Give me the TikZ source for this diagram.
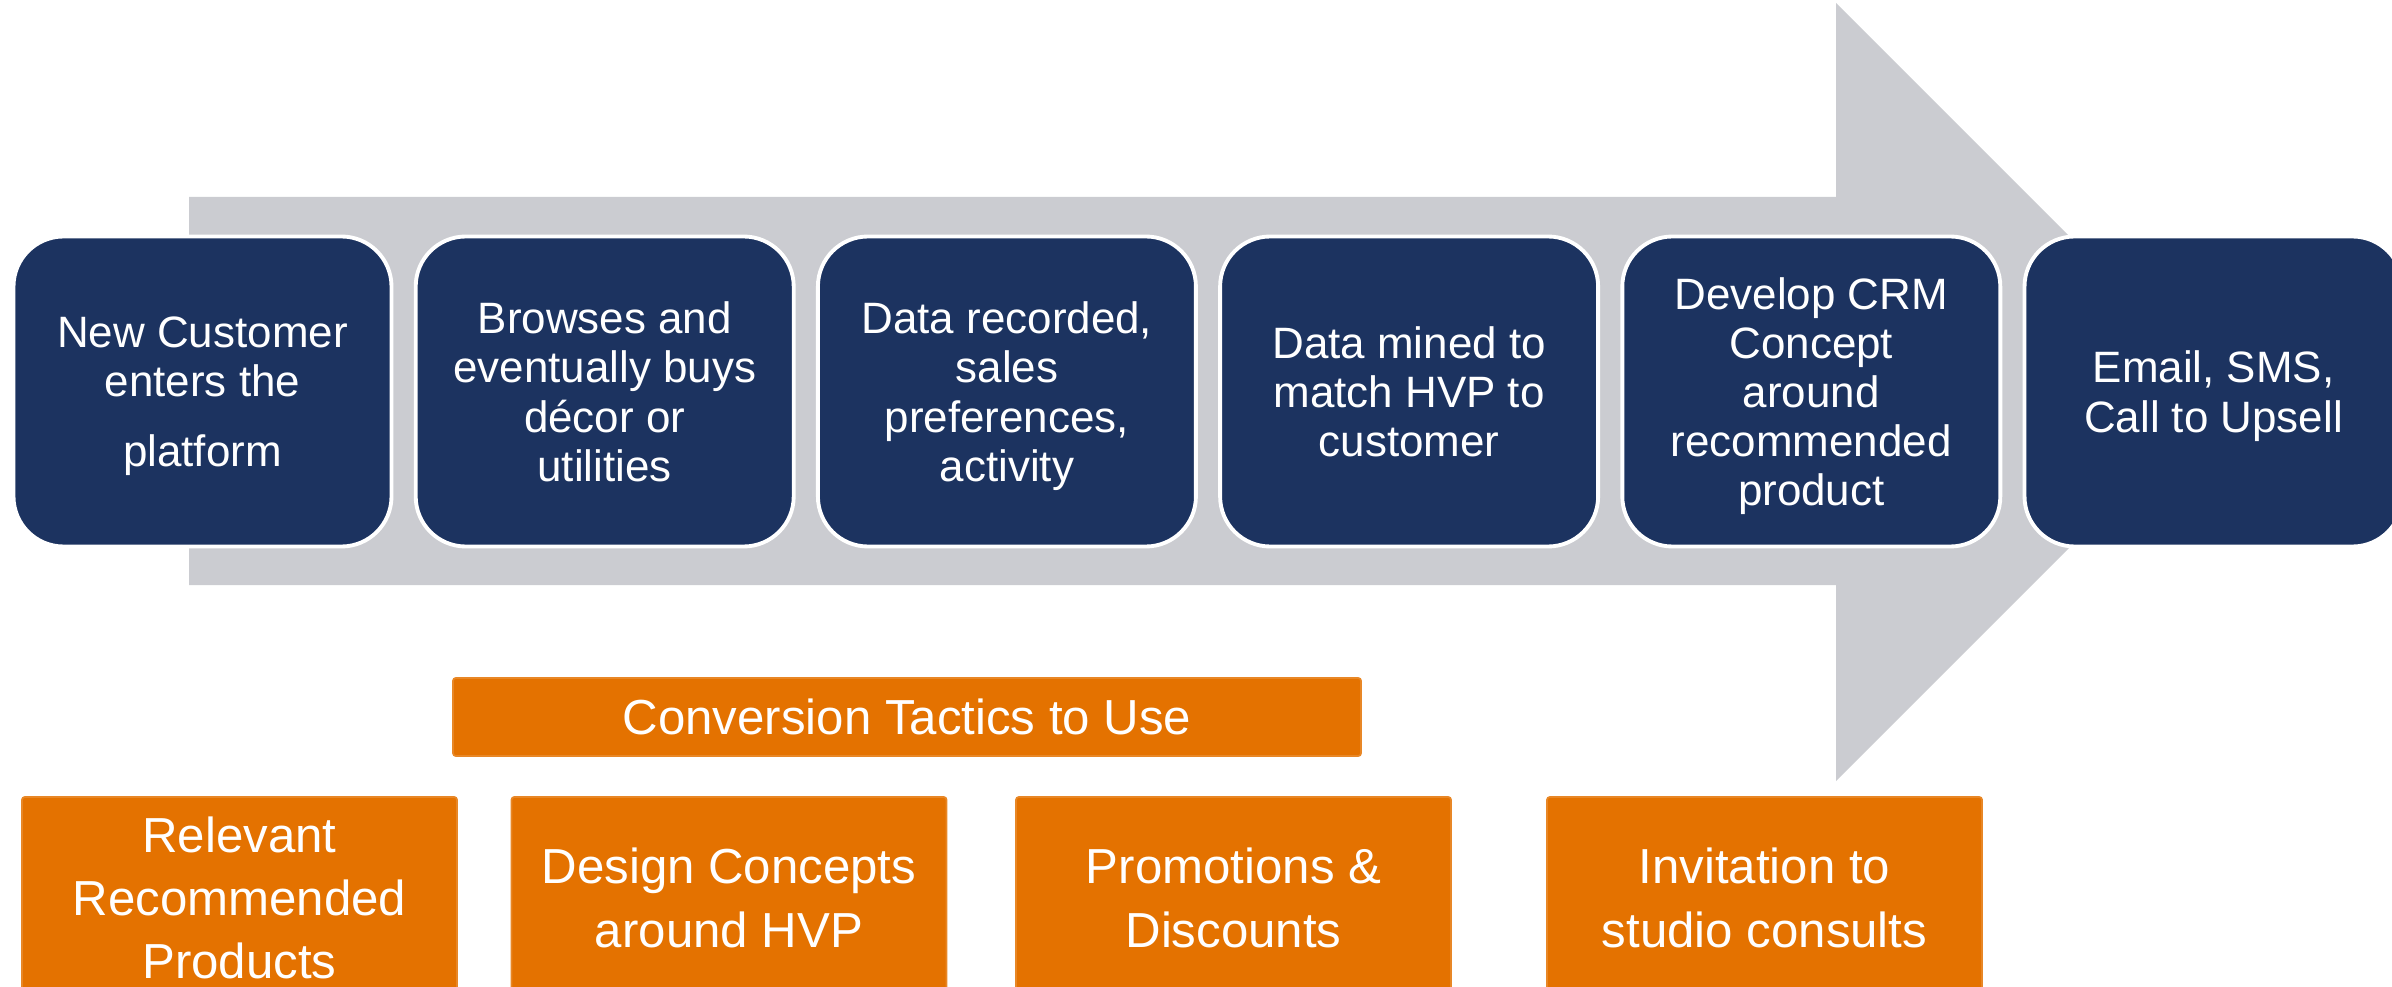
\documentclass[tikz,border=0pt]{standalone}
\usepackage{fontspec}
\setmainfont{Liberation Sans}

\definecolor{stagenavy}{RGB}{28,51,96}
\definecolor{arrowgrey}{RGB}{203,204,209}
\definecolor{tacticorange}{RGB}{228,114,0}

\begin{document}
\begin{tikzpicture}[x=0.1mm,y=-0.1mm]
% Styles
\tikzstyle{stage}=[rectangle, rounded corners=5mm, fill=stagenavy, draw=white,
  line width=1.1pt, minimum width=3.78cm, minimum height=3.1cm, inner sep=0pt,
  text=white, align=center, text depth=0pt, font=\fontsize{12.5}{14}\selectfont]
\tikzstyle{tactic}=[rectangle, rounded corners=0.8pt, fill=tacticorange,
  draw=tacticorange!85!white, line width=0.5pt, minimum width=4.35cm,
  minimum height=2.02cm, inner sep=0pt, text=white, align=center,
  font=\fontsize{14}{18}\selectfont]
% page frame, the lower boxes run off the bottom edge
\useasboundingbox (0,0) rectangle (2392,987);
\clip (0,0) rectangle (2392,987);
% the big grey arrow behind the stages
\fill[arrowgrey] (189,197) -- (1836,197) -- (1836,3) -- (2225,392)
  -- (1836,781) -- (1836,585) -- (189,585) -- cycle;
% the six stages along the arrow
\foreach \i/\txt in {1/{New Customer\\enters the\\[6pt]platform},
  2/{Browses and\\eventually buys\\décor or\\utilities},
  3/{Data recorded,\\sales\\preferences,\\activity},
  4/{Data mined to\\match HVP to\\customer},
  5/{Develop CRM\\Concept\\around\\recommended\\product},
  6/{Email, SMS,\\Call to Upsell}}
  \node[stage] (stage\i) at ({202.5+402.2*(\i-1)},391.5) {\txt};
% conversion tactics underneath
\node[tactic, minimum width=9.08cm, minimum height=0.78cm] (tactics) at (907,717)
  {Conversion Tactics to Use};
\node[tactic] (tactic1) at (239.5,898) {Relevant\\Recommended\\Products};
\node[tactic] (tactic2) at (729,898) {Design Concepts\\around HVP};
\node[tactic] (tactic3) at (1233.5,898) {Promotions \&\\Discounts};
\node[tactic] (tactic4) at (1764.5,898) {Invitation to\\studio consults};
\end{tikzpicture}
\end{document}
